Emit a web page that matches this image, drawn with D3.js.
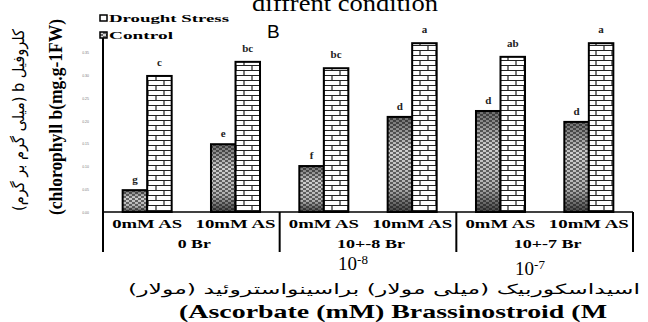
<!DOCTYPE html>
<html>
<head>
<meta charset="utf-8">
<script src="https://cdn.jsdelivr.net/npm/d3@7"></script>
<style>
  body { margin: 0; background: #fff; }
  svg { display: block; }
</style>
</head>
<body>
<div id="chart"></div>
<script>
// data
const treatments = ['0mM AS', '10mM AS', '0mM AS', '10mM AS', '0mM AS', '10mM AS'];
const brGroups = ['0 Br', '10+-8 Br', '10+-7 Br'];
const droughtValues = [0.048, 0.149, 0.101, 0.209, 0.222, 0.198];
const controlValues = [0.299, 0.330, 0.316, 0.371, 0.341, 0.371];
const droughtLetters = ['g', 'e', 'f', 'd', 'd', 'd'];
const controlLetters = ['c', 'bc', 'bc', 'a', 'ab', 'a'];
const yTicks = [0, 0.05, 0.1, 0.15, 0.2, 0.25, 0.3, 0.35];
const legendNames = ['Drought Stress', 'Control'];

const W = 648, H = 322;
const serif = '"Liberation Serif", "DejaVu Serif", serif';
const persianFont = '"DejaVu Sans", "Noto Sans", sans-serif';

const svg = d3.select('#chart').append('svg')
  .attr('width', W)
  .attr('height', H);

// patterns
const defs = svg.append('defs');

const brick = defs.append('pattern')
  .attr('id', 'brick')
  .attr('patternUnits', 'userSpaceOnUse')
  .attr('width', 16).attr('height', 10);
brick.append('rect').attr('width', 16).attr('height', 10).attr('fill', '#fff');
brick.append('path')
  .attr('d', 'M0,0.5H16M0,5.5H16M4,0.5V5.5M12,5.5V10')
  .attr('stroke', '#222').attr('stroke-width', 1.2).attr('fill', 'none');

const check = defs.append('pattern')
  .attr('id', 'check')
  .attr('patternUnits', 'userSpaceOnUse')
  .attr('width', 6).attr('height', 4);
check.append('rect').attr('width', 6).attr('height', 4).attr('fill', '#6a6a6a');
check.append('rect').attr('x', 0).attr('y', 0).attr('width', 3).attr('height', 2).attr('fill', '#d8d8d8');
check.append('rect').attr('x', 3).attr('y', 2).attr('width', 3).attr('height', 2).attr('fill', '#d8d8d8');

const shade = defs.append('linearGradient')
  .attr('id', 'shade')
  .attr('x1', 0).attr('y1', 0).attr('x2', 0).attr('y2', 1);
shade.append('stop').attr('offset', '0%').attr('stop-color', '#111').attr('stop-opacity', 0.55);
shade.append('stop').attr('offset', '35%').attr('stop-color', '#111').attr('stop-opacity', 0.05);
shade.append('stop').attr('offset', '75%').attr('stop-color', '#111').attr('stop-opacity', 0.2);
shade.append('stop').attr('offset', '100%').attr('stop-color', '#111').attr('stop-opacity', 0.75);

// scales
const x = d3.scaleBand()
  .domain(d3.range(treatments.length))
  .range([103, 633])
  .paddingInner(0.445)
  .paddingOuter(0.2225);

const y = d3.scaleLinear()
  .domain([0, 0.4])
  .range([212, 30]);

// title, partly cut off at the top
svg.append('text')
  .attr('x', 345).attr('y', 11)
  .attr('text-anchor', 'middle')
  .attr('font-family', serif)
  .attr('font-size', 24)
  .attr('textLength', 186)
  .attr('lengthAdjust', 'spacingAndGlyphs')
  .text('diffrent condition');

// panel letter
svg.append('text')
  .attr('x', 267).attr('y', 38)
  .attr('font-family', '"Liberation Sans", Arial, sans-serif')
  .attr('font-size', 19)
  .text('B');

// y axis
const yAxis = svg.append('g')
  .attr('transform', 'translate(103,0)')
  .call(d3.axisLeft(y).tickValues(yTicks).tickSize(0).tickPadding(14).tickFormat(d3.format('.2f')));
yAxis.select('.domain').attr('stroke', '#000').attr('stroke-width', 2)
  .attr('d', 'M0,' + y(0) + 'V33');
yAxis.selectAll('text')
  .attr('font-size', 3.5)
  .attr('fill', '#777');

// baseline
svg.append('line')
  .attr('x1', 103).attr('x2', 633)
  .attr('y1', y(0)).attr('y2', y(0))
  .attr('stroke', '#000').attr('stroke-width', 1.5);

const half = x.bandwidth() / 2;

// drought bars
svg.append('g').selectAll('g')
  .data(droughtValues)
  .join('g')
  .each(function (d, i) {
    const g = d3.select(this);
    g.append('rect')
      .attr('x', x(i)).attr('y', y(d))
      .attr('width', half).attr('height', y(0) - y(d))
      .attr('fill', 'url(#check)');
    g.append('rect')
      .attr('x', x(i)).attr('y', y(d))
      .attr('width', half).attr('height', y(0) - y(d))
      .attr('fill', 'url(#shade)')
      .attr('stroke', '#000').attr('stroke-width', 2);
  });

// control bars
svg.append('g').selectAll('rect')
  .data(controlValues)
  .join('rect')
  .attr('x', (d, i) => x(i) + half)
  .attr('y', d => y(d))
  .attr('width', half)
  .attr('height', d => y(0) - y(d))
  .attr('fill', 'url(#brick)')
  .attr('stroke', '#000').attr('stroke-width', 2);

// significance letters
const letterStyle = sel => sel
  .attr('text-anchor', 'middle')
  .attr('font-family', serif)
  .attr('font-weight', 'bold')
  .attr('font-size', 11)
  .attr('fill', '#222');

svg.append('g').selectAll('text')
  .data(droughtValues)
  .join('text')
  .attr('x', (d, i) => x(i) + half / 2)
  .attr('y', d => y(d) - 7)
  .text((d, i) => droughtLetters[i])
  .call(letterStyle);

svg.append('g').selectAll('text')
  .data(controlValues)
  .join('text')
  .attr('x', (d, i) => x(i) + half * 1.5)
  .attr('y', d => y(d) - 10)
  .text((d, i) => controlLetters[i])
  .call(letterStyle);

// treatment labels
svg.append('g').selectAll('text')
  .data(treatments)
  .join('text')
  .attr('x', (d, i) => x(i) + x.bandwidth() / 2)
  .attr('y', 228)
  .attr('text-anchor', 'middle')
  .attr('font-family', serif)
  .attr('font-weight', 'bold')
  .attr('font-size', 12)
  .attr('textLength', (d, i) => i % 2 ? 80 : 70)
  .attr('lengthAdjust', 'spacingAndGlyphs')
  .text(d => d);

// Br group labels and dividers
const groupEdge = i => i === 0 ? 103 : (i === 3 ? 633 : (x(2 * i - 1) + x.bandwidth() + x(2 * i)) / 2);

svg.append('g').selectAll('line')
  .data(d3.range(brGroups.length + 1))
  .join('line')
  .attr('x1', groupEdge).attr('x2', groupEdge)
  .attr('y1', y(0)).attr('y2', 252)
  .attr('stroke', '#000').attr('stroke-width', 2);

svg.append('g').selectAll('text')
  .data(brGroups)
  .join('text')
  .attr('x', (d, i) => (groupEdge(i) + groupEdge(i + 1)) / 2 + 3)
  .attr('y', 248)
  .attr('text-anchor', 'middle')
  .attr('font-family', serif)
  .attr('font-weight', 'bold')
  .attr('font-size', 12)
  .attr('textLength', (d, i) => i ? 68 : 33)
  .attr('lengthAdjust', 'spacingAndGlyphs')
  .text(d => d);

// exponent notes below the axis
const powers = [['10', '-8', 353, 270], ['10', '-7', 530, 275]];
powers.forEach(p => {
  const t = svg.append('text')
    .attr('x', p[2]).attr('y', p[3])
    .attr('text-anchor', 'middle')
    .attr('font-family', serif)
    .attr('font-size', 19);
  t.append('tspan').text(p[0]);
  t.append('tspan').attr('font-size', 13).attr('dy', -6).text(p[1]);
});

// x titles
svg.append('text')
  .attr('x', 384).attr('y', 294)
  .attr('text-anchor', 'middle')
  .attr('font-family', persianFont)
  .attr('font-size', 14)
  .attr('textLength', 512)
  .attr('lengthAdjust', 'spacingAndGlyphs')
  .attr('direction', 'rtl')
  .text('اسیداسکوربیک (میلی مولار) براسینواستروئید (مولار)');

svg.append('text')
  .attr('x', 393).attr('y', 318)
  .attr('text-anchor', 'middle')
  .attr('font-family', serif)
  .attr('font-weight', 'bold')
  .attr('font-size', 19)
  .attr('textLength', 428)
  .attr('lengthAdjust', 'spacingAndGlyphs')
  .text('(Ascorbate (mM) Brassinostroid (M');

// y titles
svg.append('text')
  .attr('transform', 'translate(24,120) rotate(-90)')
  .attr('text-anchor', 'middle')
  .attr('font-family', persianFont)
  .attr('font-size', 16)
  .attr('textLength', 182)
  .attr('lengthAdjust', 'spacingAndGlyphs')
  .attr('direction', 'rtl')
  .text('کلروفیل b (میلی گرم بر گرم)');

svg.append('text')
  .attr('transform', 'translate(62,117) rotate(-90)')
  .attr('text-anchor', 'middle')
  .attr('font-family', serif)
  .attr('font-weight', 'bold')
  .attr('font-size', 19)
  .attr('textLength', 196)
  .attr('lengthAdjust', 'spacingAndGlyphs')
  .text('(chlorophyll b(mg.g-1FW)');

// legend
const legend = svg.append('g').selectAll('g')
  .data(legendNames)
  .join('g')
  .attr('transform', (d, i) => 'translate(100,' + (15 + i * 17) + ')');
legend.append('rect')
  .attr('width', 7).attr('height', 6)
  .attr('fill', (d, i) => i ? 'url(#check)' : '#fff')
  .attr('stroke', '#000').attr('stroke-width', 1.5);
legend.append('text')
  .attr('x', 9).attr('y', 7)
  .attr('font-family', serif)
  .attr('font-weight', 'bold')
  .attr('font-size', 11)
  .attr('textLength', (d, i) => i ? 64 : 120)
  .attr('lengthAdjust', 'spacingAndGlyphs')
  .text(d => d);
</script>
</body>
</html>
